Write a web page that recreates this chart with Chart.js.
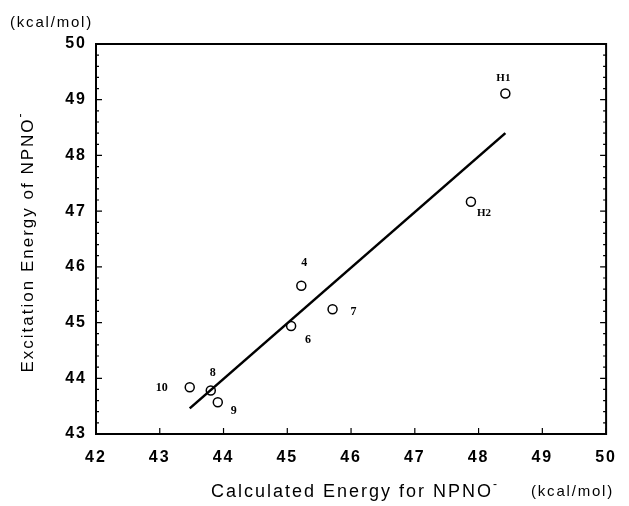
<!DOCTYPE html>
<html>
<head>
<meta charset="utf-8">
<script src="https://cdn.jsdelivr.net/npm/chart.js"></script>
<style>
  body { margin: 0; background: #fff; }
</style>
</head>
<body>
<canvas id="chart_id" width="629" height="506"></canvas>
<script>
const xVals = [48.42, 47.88, 45.22, 45.71, 45.06, 43.80, 43.91, 43.47];
const yVals = [49.11, 47.17, 45.66, 45.24, 44.94, 43.78, 43.57, 43.84];
const pointNames = ['H1', 'H2', '4', '7', '6', '8', '9', '10'];

// 회귀 직선 양 끝점
const fitX = [43.47, 48.42];
const fitY = [43.46, 48.40];

// 축 눈금 라벨
const xTicks = [42, 43, 44, 45, 46, 47, 48, 49, 50];
const yTicks = [43, 44, 45, 46, 47, 48, 49, 50];

// 라벨 위치 오프셋 (px)
const labelOffsets = [[-2, -15], [13, 11], [3, -23], [21, 3], [17, 14], [2, -18], [16, 9], [-28, 1]];

const sans = "'Liberation Sans', Arial, sans-serif";

function textSup(ctx, txt, x, y) {
    // x = 가운데, 끝에 위첨자 '-'
    ctx.textAlign = 'left';
    const w = ctx.measureText(txt).width;
    const start = x - w / 2;
    ctx.fillText(txt, start, y);
    ctx.save();
    ctx.font = '12px ' + sans;
    ctx.fillText('-', start + w, y - 7);
    ctx.restore();
}

const decoPlugin = {
    id: 'deco',
    beforeDraw(chart) {
        chart.ctx.letterSpacing = '2px';
    },
    afterDraw(chart) {
        const { ctx, chartArea: a, scales: { x, y } } = chart;
        ctx.letterSpacing = '0px';
        ctx.save();
        ctx.strokeStyle = '#000';
        // 테두리
        ctx.lineWidth = 2;
        ctx.strokeRect(a.left, a.top, a.right - a.left, a.bottom - a.top);
        // y축 눈금 (좌/우, 안쪽)
        ctx.lineWidth = 1.2;
        for (let i = 0; i <= 35; i++) {
            const v = 43 + i * 0.2;
            const py = y.getPixelForValue(v);
            const len = (i % 5 === 0) ? 6 : 3;
            ctx.beginPath();
            ctx.moveTo(a.left, py); ctx.lineTo(a.left + len, py);
            ctx.moveTo(a.right, py); ctx.lineTo(a.right - len, py);
            ctx.stroke();
        }
        // x축 눈금
        xTicks.forEach(v => {
            const px = x.getPixelForValue(v);
            ctx.beginPath();
            ctx.moveTo(px, a.bottom); ctx.lineTo(px, a.bottom - 6);
            ctx.stroke();
        });

        // 점 라벨
        ctx.fillStyle = '#000';
        ctx.textAlign = 'center';
        ctx.textBaseline = 'middle';
        pointNames.forEach((n, i) => {
            ctx.font = (n.startsWith('H') ? 'bold 11px ' : 'bold 12px ') + "'Liberation Serif', serif";
            const px = x.getPixelForValue(xVals[i]) + labelOffsets[i][0];
            const py = y.getPixelForValue(yVals[i]) + labelOffsets[i][1];
            ctx.fillText(n, px, py);
        });

        // 축 제목, 단위
        ctx.letterSpacing = '1.8px';
        ctx.font = '15px ' + sans;
        ctx.textAlign = 'left';
        ctx.fillText('(kcal/mol)', 10, 23);
        ctx.fillText('(kcal/mol)', 531, 492);

        ctx.letterSpacing = '2px';
        ctx.font = '18px ' + sans;
        textSup(ctx, 'Calculated Energy for NPNO', 352, 492);

        ctx.save();
        ctx.translate(28, 245);
        ctx.rotate(-Math.PI / 2);
        ctx.font = '17px ' + sans;
        textSup(ctx, 'Excitation Energy of NPNO', 0, 0);
        ctx.restore();
        ctx.restore();
    }
};

new Chart(document.getElementById('chart_id'), {
    type: 'scatter',
    data: {
        datasets: [{
            data: xVals.map((v, i) => ({ x: v, y: yVals[i] })),
            pointStyle: 'circle',
            pointRadius: 4.5,
            borderColor: '#000',
            backgroundColor: 'rgba(0,0,0,0)',
            pointBorderWidth: 1.5
        }, {
            data: fitX.map((v, i) => ({ x: v, y: fitY[i] })),
            showLine: true,
            pointRadius: 0,
            borderColor: '#000',
            borderWidth: 2.6
        }]
    },
    options: {
        responsive: false,
        animation: false,
        layout: { padding: { left: 0, top: 44, right: 14, bottom: 0 } },
        plugins: { legend: { display: false }, tooltip: { enabled: false } },
        scales: {
            x: {
                type: 'linear', min: 42, max: 50,
                afterBuildTicks: s => { s.ticks = xTicks.map(v => ({ value: v })); },
                afterFit: s => { s.height = 72; },
                grid: { display: false, drawTicks: false },
                border: { display: false },
                ticks: { padding: 14, color: '#000', font: { family: sans, size: 16, weight: 'bold' } }
            },
            y: {
                type: 'linear', min: 43, max: 50,
                afterBuildTicks: s => { s.ticks = yTicks.map(v => ({ value: v })); },
                afterFit: s => { s.width = 96; },
                grid: { display: false, drawTicks: false },
                border: { display: false },
                ticks: { padding: 9, color: '#000', font: { family: sans, size: 16, weight: 'bold' } }
            }
        }
    },
    plugins: [decoPlugin]
});
</script>
</body>
</html>
